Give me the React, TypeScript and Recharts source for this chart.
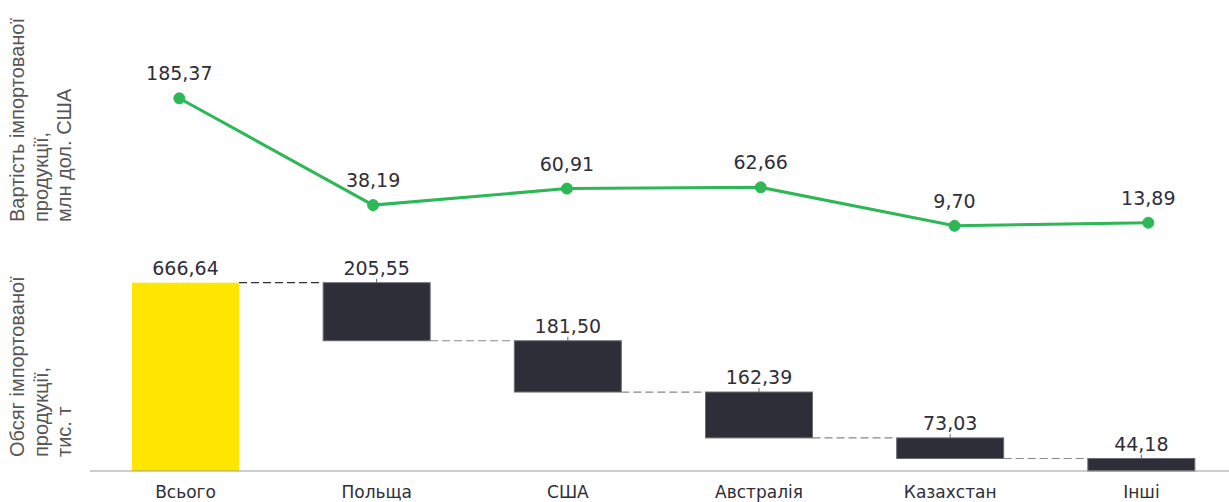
import { ComposedChart, Bar, Line, XAxis, YAxis, LabelList } from "recharts";

const categories = ["Всього", "Польща", "США", "Австралія", "Казахстан", "Інші"];
const volume = [666.64, 205.55, 181.5, 162.39, 73.03, 44.18];
const importValue = [185.37, 38.19, 60.91, 62.66, 9.7, 13.89];

const topAxisLines = ["Вартість імпортованої", "продукції,", "млн дол. США"];
const bottomAxisLines = ["Обсяг імпортованої", "продукції,", "тис. т"];

const YELLOW = "#ffe600";
const DARK = "#2e2e38";
const GREEN = "#2db757";

const CHART_W = 1237;
const CHART_H = 502;
const MARGIN = { top: 20, right: 0, bottom: 0, left: 90 };
const BAR_SIZE = 107;
const BAND = (CHART_W - MARGIN.left - MARGIN.right) / categories.length;
const GAP = BAND - BAR_SIZE;

// waterfall: first bar is the total, the rest fall from it
let running = volume[0];
const data = categories.map((name, i) => {
    let base = 0;
    if (i > 0) {
        running -= volume[i];
        base = Math.max(0, running);
    }
    return { name, base, vol: volume[i], val: importValue[i] };
});

const fmt = (v: any) => Number(v).toFixed(2).replace(".", ",");

const WaterfallBar = (props: any) => {
    const { x, y, width, height, index } = props;
    const level = index === 0 ? y : y + height;
    const last = index === categories.length - 1;
    return (
        <g>
            <rect
                x={x}
                y={y}
                width={width}
                height={height}
                fill={index === 0 ? YELLOW : DARK}
                stroke={index === 0 ? "none" : "#6b6b75"}
                strokeWidth={1}
            />
            {index > 0 && (
                <line x1={x + width / 2} y1={y - 4} x2={x + width / 2} y2={y} stroke="#666" />
            )}
            {!last && (
                <line
                    x1={x + width}
                    y1={level}
                    x2={x + width + GAP}
                    y2={level}
                    stroke={index === 0 ? "#333" : "#888"}
                    strokeWidth={1.2}
                    strokeDasharray="8 4"
                />
            )}
        </g>
    );
};

const AxisTitle = ({ lines, y }: { lines: string[]; y: number }) => (
    <>
        {lines.map((t, i) => {
            const x = 24 + i * 23.5;
            return (
                <text
                    key={i}
                    x={x}
                    y={y}
                    transform={`rotate(-90 ${x} ${y})`}
                    textAnchor="start"
                    fontFamily="'Liberation Sans', Arial, sans-serif"
                    fontSize={20}
                    fill="#555"
                >
                    {t}
                </text>
            );
        })}
    </>
);

export default function App() {
    return (
        <div
            style={{
                position: "fixed",
                left: 0,
                top: 0,
                width: 1229,
                height: CHART_H,
                overflow: "hidden",
                background: "#fff",
            }}
        >
            <ComposedChart width={CHART_W} height={CHART_H} data={data} margin={MARGIN}>
                <XAxis
                    dataKey="name"
                    height={31}
                    interval={0}
                    tickLine={false}
                    tickMargin={9}
                    axisLine={{ stroke: "#999" }}
                    tick={{ fill: DARK, fontSize: 17, fontFamily: "'DejaVu Sans', Verdana, sans-serif" }}
                />
                {/* the value line sits on its own, slightly wider spacing */}
                <XAxis
                    xAxisId="line"
                    dataKey="name"
                    hide
                    scale="point"
                    padding={{ left: 89.3, right: 88.7 }}
                />
                <YAxis yAxisId="bar" hide domain={[0, 1596.7]} />
                <YAxis yAxisId="line" hide domain={[-328.3, 293.3]} />
                <Bar
                    yAxisId="bar"
                    dataKey="base"
                    stackId="w"
                    fill="transparent"
                    barSize={BAR_SIZE}
                    isAnimationActive={false}
                />
                <Bar
                    yAxisId="bar"
                    dataKey="vol"
                    stackId="w"
                    barSize={BAR_SIZE}
                    shape={<WaterfallBar />}
                    isAnimationActive={false}
                >
                    <LabelList
                        dataKey="vol"
                        position="top"
                        offset={8}
                        formatter={fmt}
                        fill={DARK}
                        fontSize={19}
                        fontFamily="'DejaVu Sans', Verdana, sans-serif"
                    />
                </Bar>
                <Line
                    xAxisId="line"
                    yAxisId="line"
                    dataKey="val"
                    stroke={GREEN}
                    strokeWidth={3}
                    dot={{ r: 5.5, fill: GREEN, stroke: GREEN, strokeWidth: 1 }}
                    isAnimationActive={false}
                >
                    <LabelList
                        dataKey="val"
                        position="top"
                        offset={18}
                        formatter={fmt}
                        fill={DARK}
                        fontSize={19}
                        fontFamily="'DejaVu Sans', Verdana, sans-serif"
                    />
                </Line>
            </ComposedChart>
            <svg
                width={120}
                height={CHART_H}
                style={{ position: "absolute", left: 0, top: 0, pointerEvents: "none" }}
            >
                <AxisTitle lines={topAxisLines} y={222} />
                <AxisTitle lines={bottomAxisLines} y={457} />
            </svg>
        </div>
    );
}
